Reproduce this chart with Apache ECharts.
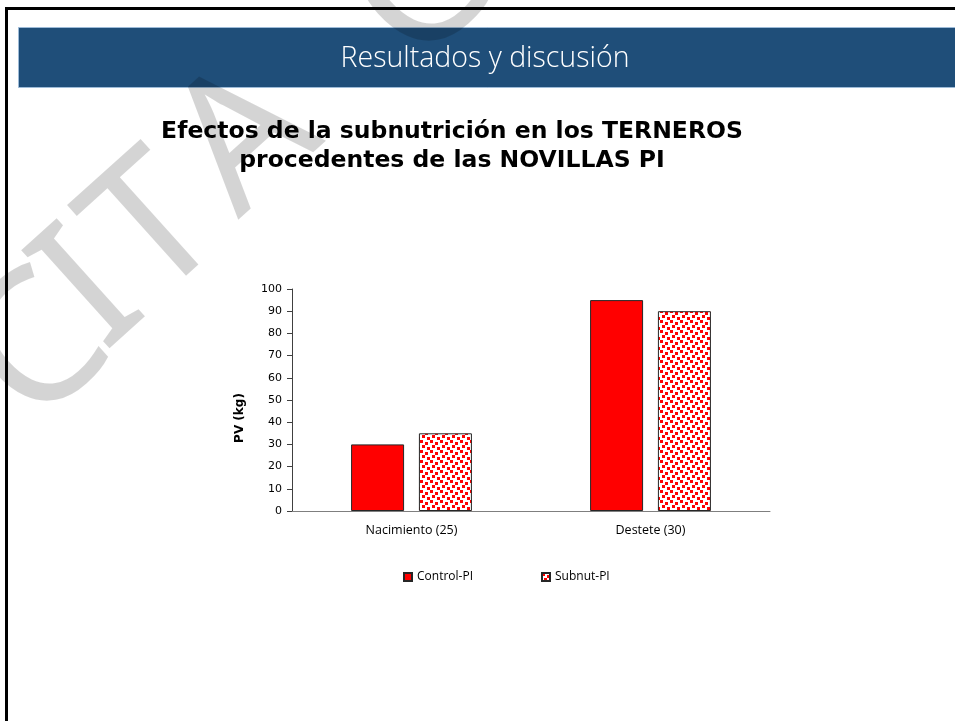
<!DOCTYPE html>
<html>
<head>
<meta charset="utf-8">
<script src="https://cdn.jsdelivr.net/npm/echarts@6/dist/echarts.min.js"></script>
<style>
html,body{margin:0;padding:0;background:#fff;}
#chart{width:955px;height:721px;}
</style>
</head>
<body>
<div id="chart"></div>
<script>
var categories = ['Nacimiento (25)', 'Destete (30)'];
var controlPI = [30, 95];
var subnutPI = [35, 90];
var seriesNames = ['Control-PI', 'Subnut-PI'];
var headerText = 'Resultados y discusión';
var titleText = 'Efectos de la subnutrición en los TERNEROS\nprocedentes de las NOVILLAS PI';
var watermarkLetters = ['C', 'I', 'T', 'A', 'C'];

function makePattern() {
  var c = document.createElement('canvas');
  c.width = 10; c.height = 10;
  var g = c.getContext('2d');
  g.fillStyle = '#ffffff';
  g.fillRect(0, 0, 10, 10);
  g.fillStyle = '#ff0000';
  [[0,0],[5,2],[2,5],[7,7]].forEach(function(p){ g.fillRect(p[0], p[1], 3, 3); });
  return c;
}
var pattern = {image: makePattern(), repeat: 'repeat'};

var wmPos = [[40,352],[92,293],[157,231],[247,141],[422,-8]];
var wm = watermarkLetters.map(function(ch, i){
  return {
    type: 'text', x: wmPos[i][0], y: wmPos[i][1], rotation: 0.733, z: 100, silent: true,
    style: {text: ch, fontSize: 185, fontFamily: 'Noto Sans', fill: 'rgba(0,0,0,0.17)', align: 'center', verticalAlign: 'middle'}
  };
});

var chart = echarts.init(document.getElementById('chart'));
chart.setOption({
  backgroundColor: '#ffffff',
  animation: false,
  title: {
    text: titleText,
    left: 447, top: 112, textAlign: 'center',
    textStyle: {fontFamily: 'DejaVu Sans', fontWeight: 'bold', fontSize: 23.5, lineHeight: 29, color: '#000'}
  },
  graphic: [
    {type: 'rect', shape: {x: 18.5, y: 27.5, width: 940, height: 60}, style: {fill: '#1F4E79', stroke: '#9dbbd8', lineWidth: 1}, z: 1},
    {type: 'text', x: 485, y: 59, z: 2, style: {text: headerText, fontFamily: 'Open Sans', fontWeight: 300, fontSize: 28.5, fill: '#ffffff', align: 'center', verticalAlign: 'middle'}},
    {type: 'line', shape: {x1: 6.5, y1: 8, x2: 6.5, y2: 721}, style: {stroke: '#000', lineWidth: 3}, z: 3},
    {type: 'line', shape: {x1: 5, y1: 8.5, x2: 955, y2: 8.5}, style: {stroke: '#000', lineWidth: 3}, z: 3}
  ].concat(wm),
  legend: {
    left: 398, top: 566,
    itemWidth: 8, itemHeight: 8, itemGap: 68,
    icon: 'rect',
    textStyle: {fontFamily: 'Open Sans', fontSize: 12, color: '#000'},
    data: seriesNames
  },
  grid: {left: 292, right: 185, top: 289, bottom: 210},
  xAxis: {
    type: 'category', data: categories,
    axisTick: {show: false},
    axisLine: {lineStyle: {color: '#7f7f7f', width: 1}},
    axisLabel: {fontFamily: 'Open Sans', fontSize: 12.5, color: '#000', margin: 13}
  },
  yAxis: {
    type: 'value', min: 0, max: 100, interval: 10,
    name: 'PV (kg)', nameLocation: 'middle', nameGap: 46,
    nameTextStyle: {fontFamily: 'DejaVu Sans', fontWeight: 'bold', fontSize: 12, color: '#000', padding: [0, 36, 0, 0]},
    axisLine: {show: true, lineStyle: {color: '#404040', width: 1}},
    axisTick: {show: true, length: 5, lineStyle: {color: '#404040'}},
    splitLine: {show: false},
    axisLabel: {fontFamily: 'DejaVu Sans', fontSize: 11, color: '#000', margin: 10}
  },
  series: [
    {name: seriesNames[0], type: 'bar', data: controlPI, barWidth: 53, barGap: '28%',
     itemStyle: {color: '#ff0000', borderColor: '#262626', borderWidth: 1}},
    {name: seriesNames[1], type: 'bar', data: subnutPI, barWidth: 53,
     itemStyle: {color: pattern, borderColor: '#262626', borderWidth: 1}}
  ]
});
</script>
</body>
</html>
